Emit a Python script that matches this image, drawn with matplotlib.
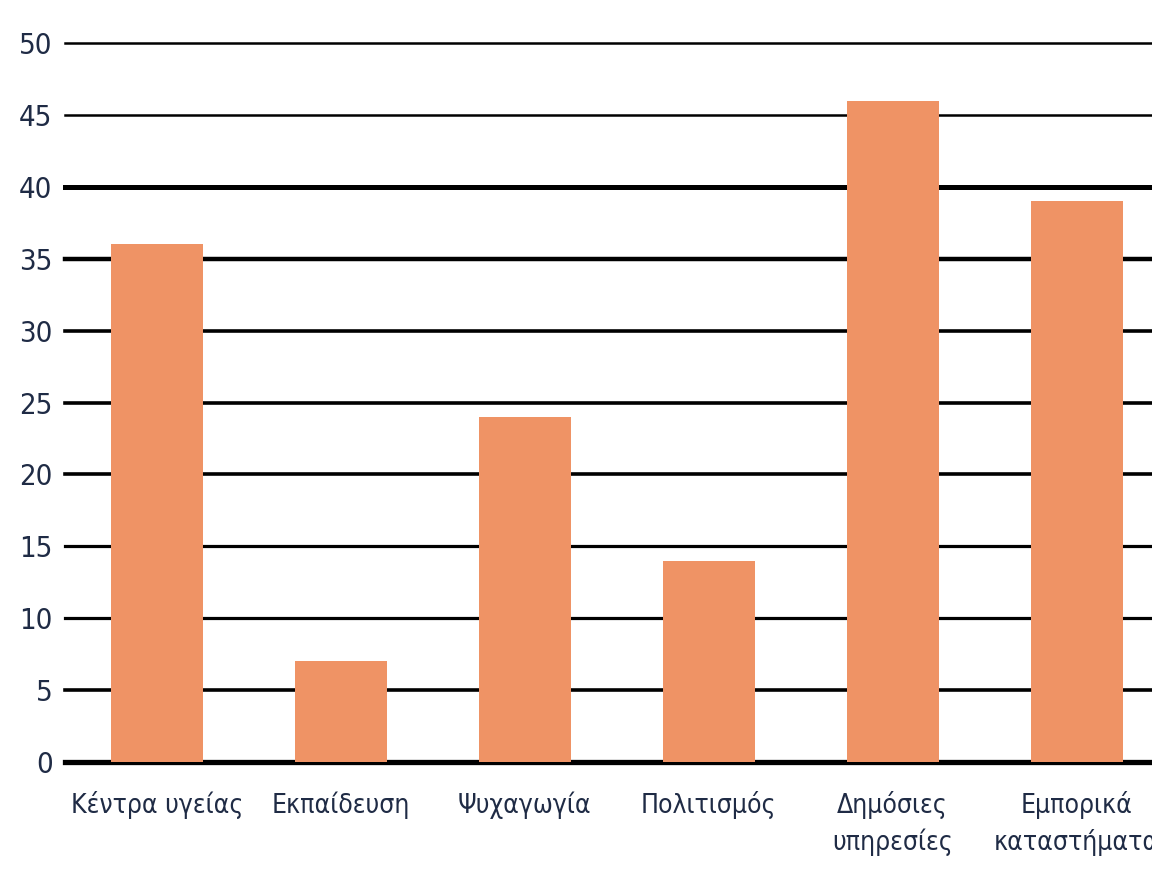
import matplotlib
matplotlib.use('Agg')
import matplotlib.pyplot as plt

# Data
categories = ['Κέντρα υγείας', 'Εκπαίδευση', 'Ψυχαγωγία', 'Πολιτισμός',
              'Δημόσιες\nυπηρεσίες', 'Εμπορικά\nκαταστήματα']
values = [36, 7, 24, 14, 46, 39]
y_ticks = [0, 5, 10, 15, 20, 25, 30, 35, 40, 45, 50]

bar_color = '#EF9365'
text_color = '#1f2b45'

plt.rcParams['font.family'] = ['DejaVu Sans']
plt.rcParams['font.stretch'] = 'condensed'

fig = plt.figure(figsize=(11.52, 8.76), dpi=100)
# axes in figure fractions: left 65px, bottom 762px, top 36px
ax = fig.add_axes([65 / 1152, (876 - 762) / 876, (1152 - 65) / 1152, (762 - 36) / 876])

x = list(range(len(categories)))

# horizontal lines of uneven thickness, like the scanned original
line_widths = [3.8, 2.6, 2.3, 2.3, 2.6, 2.6, 2.6, 3.2, 3.6, 1.8, 1.8]
for t, lw in zip(y_ticks, line_widths):
    ax.axhline(t, color='black', linewidth=lw, zorder=1, clip_on=False)

ax.bar(x, values, width=0.5, color=bar_color, zorder=2)

ax.set_xlim(-0.5, 5.41)
ax.set_ylim(0, 50.5)
ax.set_yticks(y_ticks)
ax.set_yticklabels([str(t) for t in y_ticks], fontsize=21, color=text_color)
ax.set_xticks(x)
ax.set_xticklabels(categories, fontsize=19, color=text_color, linespacing=1.45)
ax.tick_params(axis='y', length=0, pad=9)
ax.tick_params(axis='x', length=0, pad=21)

for s in ax.spines.values():
    s.set_visible(False)

fig.savefig('out.png', dpi=100, facecolor='white')
